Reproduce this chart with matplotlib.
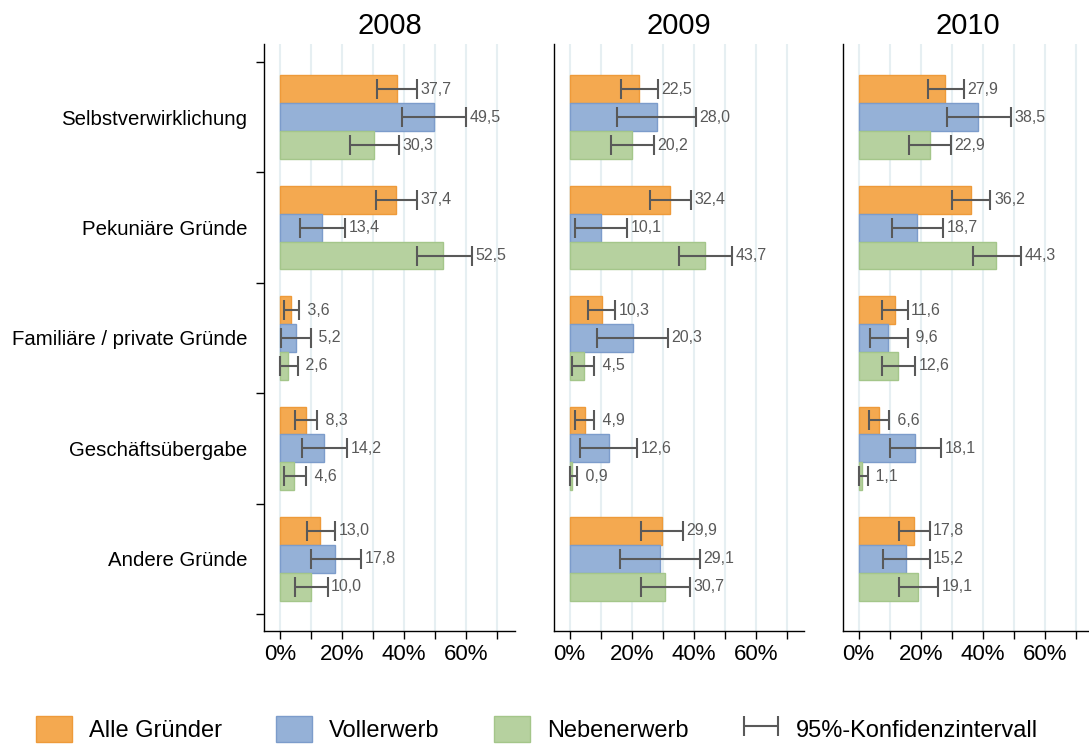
import matplotlib
matplotlib.use("Agg")
import matplotlib.pyplot as plt
from matplotlib.patches import Patch
from matplotlib.container import ErrorbarContainer
from matplotlib.legend_handler import HandlerErrorbar
import numpy as np

plt.rcParams['font.family'] = ['Liberation Sans', 'DejaVu Sans']

# Data
categories = ["Selbstverwirklichung", "Pekuniäre Gründe", "Familiäre / private Gründe",
              "Geschäftsübergabe", "Andere Gründe"]
years = ["2008", "2009", "2010"]
series_names = ["Alle Gründer", "Vollerwerb", "Nebenerwerb"]

alle_2008 = [37.7, 37.4, 3.6, 8.3, 13.0]
voll_2008 = [49.5, 13.4, 5.2, 14.2, 17.8]
neben_2008 = [30.3, 52.5, 2.6, 4.6, 10.0]
alle_2009 = [22.5, 32.4, 10.3, 4.9, 29.9]
voll_2009 = [28.0, 10.1, 20.3, 12.6, 29.1]
neben_2009 = [20.2, 43.7, 4.5, 0.9, 30.7]
alle_2010 = [27.9, 36.2, 11.6, 6.6, 17.8]
voll_2010 = [38.5, 18.7, 9.6, 18.1, 15.2]
neben_2010 = [22.9, 44.3, 12.6, 1.1, 19.1]

# 95% confidence interval bounds (lower, upper)
alle_2008_lo = [31.3, 30.9, 1.2, 4.8, 8.6]
alle_2008_hi = [44.2, 44.0, 6.1, 12.0, 17.7]
voll_2008_lo = [39.2, 6.4, 0.4, 6.9, 9.9]
voll_2008_hi = [60.0, 20.9, 9.8, 21.5, 26.0]
neben_2008_lo = [22.4, 44.0, 0.0, 1.1, 4.8]
neben_2008_hi = [38.3, 61.7, 5.6, 8.4, 15.3]
alle_2009_lo = [16.6, 25.8, 6.0, 1.7, 23.1]
alle_2009_hi = [28.4, 39.2, 14.6, 8.0, 36.6]
voll_2009_lo = [15.4, 1.7, 8.9, 3.3, 16.2]
voll_2009_hi = [40.6, 18.5, 31.6, 21.8, 42.0]
neben_2009_lo = [13.2, 35.2, 0.9, 0.0, 22.9]
neben_2009_hi = [27.1, 52.4, 8.0, 2.5, 38.7]
alle_2010_lo = [22.4, 30.2, 7.5, 3.5, 12.9]
alle_2010_hi = [33.8, 42.5, 15.8, 9.9, 22.9]
voll_2010_lo = [28.6, 10.8, 3.7, 10.1, 7.8]
voll_2010_hi = [49.0, 27.2, 15.8, 26.5, 22.9]
neben_2010_lo = [16.2, 36.8, 7.4, 0.0, 12.9]
neben_2010_hi = [29.8, 52.4, 18.1, 3.0, 25.6]

table = {
    "2008": [(alle_2008, alle_2008_lo, alle_2008_hi),
             (voll_2008, voll_2008_lo, voll_2008_hi),
             (neben_2008, neben_2008_lo, neben_2008_hi)],
    "2009": [(alle_2009, alle_2009_lo, alle_2009_hi),
             (voll_2009, voll_2009_lo, voll_2009_hi),
             (neben_2009, neben_2009_lo, neben_2009_hi)],
    "2010": [(alle_2010, alle_2010_lo, alle_2010_hi),
             (voll_2010, voll_2010_lo, voll_2010_hi),
             (neben_2010, neben_2010_lo, neben_2010_hi)],
}

face_colors = ["#F4A950", "#95B1D7", "#B6D19F"]
edge_colors = ["#EE9A3A", "#7C9CCB", "#A4C68A"]
err_color = "#595959"
grid_color = "#E6EFF2"

W, H = 1089, 747
fig = plt.figure(figsize=(W / 100, H / 100), dpi=100)

panel_lefts = [264, 553.5, 842.5]
panel_w = 251
ax_top, ax_bot = 44, 631
bar_h = 0.253
y = np.arange(len(categories))

err_handle = None
for k, year in enumerate(years):
    ax = fig.add_axes([panel_lefts[k] / W, 1 - ax_bot / H, panel_w / W, (ax_bot - ax_top) / H])
    ax.set_xlim(-5.2, 75.7)
    ax.set_ylim(4.654, -0.663)

    for gx in range(0, 80, 10):
        ax.axvline(gx, color=grid_color, lw=1.5, zorder=0)

    for s, (vals, lo, hi) in enumerate(table[year]):
        pos = y + (s - 1) * bar_h
        vals = np.array(vals)
        lo = np.array(lo)
        hi = np.array(hi)
        ax.barh(pos, vals, height=bar_h, color=face_colors[s], edgecolor=edge_colors[s],
                linewidth=1.0, zorder=2)
        eb = ax.errorbar(vals, pos, xerr=[vals - lo, hi - vals], fmt='none', ecolor=err_color,
                         elinewidth=1.5, capsize=7.5, capthick=1.5, zorder=3)
        err_handle = eb
        for p, v, h in zip(pos, vals, hi):
            lbl = f"{v:.1f}".replace('.', ',')
            if v < 10:
                lbl = " " + lbl
            ax.annotate(lbl, (h, p), xytext=(2.5, 0), textcoords='offset points',
                        va='center', ha='left', fontsize=11.5, color=err_color, zorder=4)

    ax.set_title(year, fontsize=21, pad=7)
    ax.spines['top'].set_visible(False)
    ax.spines['right'].set_visible(False)
    ax.spines['left'].set_linewidth(1.0)
    ax.spines['bottom'].set_linewidth(1.0)

    ax.set_xticks([0, 20, 40, 60])
    ax.set_xticklabels(["0%", "20%", "40%", "60%"], fontsize=16)
    ax.set_xticks([10, 30, 50, 70], minor=True)
    ax.tick_params(axis='x', which='both', direction='out', length=6, width=1.0, pad=3)

    if k == 0:
        ax.set_yticks(np.arange(-0.5, len(categories), 1.0))
        ax.set_yticklabels([])
        ax.tick_params(axis='y', which='major', direction='out', length=6, width=1.0)
        ax.set_yticks(y, minor=True)
        ax.set_yticklabels(categories, minor=True, fontsize=14.7)
        ax.tick_params(axis='y', which='minor', length=0, pad=12)
    else:
        ax.set_yticks([])

handles = [Patch(facecolor=face_colors[i], edgecolor=edge_colors[i]) for i in range(3)]
handles.append(err_handle)
labels = series_names + ["95%-Konfidenzintervall"]
fig.legend(handles, labels, loc='center', bbox_to_anchor=(0.493, 0.024), ncol=4,
           frameon=False, fontsize=17, handlelength=1.52, handleheight=1.36,
           handletextpad=0.72, columnspacing=2.3,
           handler_map={ErrorbarContainer: HandlerErrorbar(xerr_size=0.72)})

fig.savefig("out.png", dpi=100)
